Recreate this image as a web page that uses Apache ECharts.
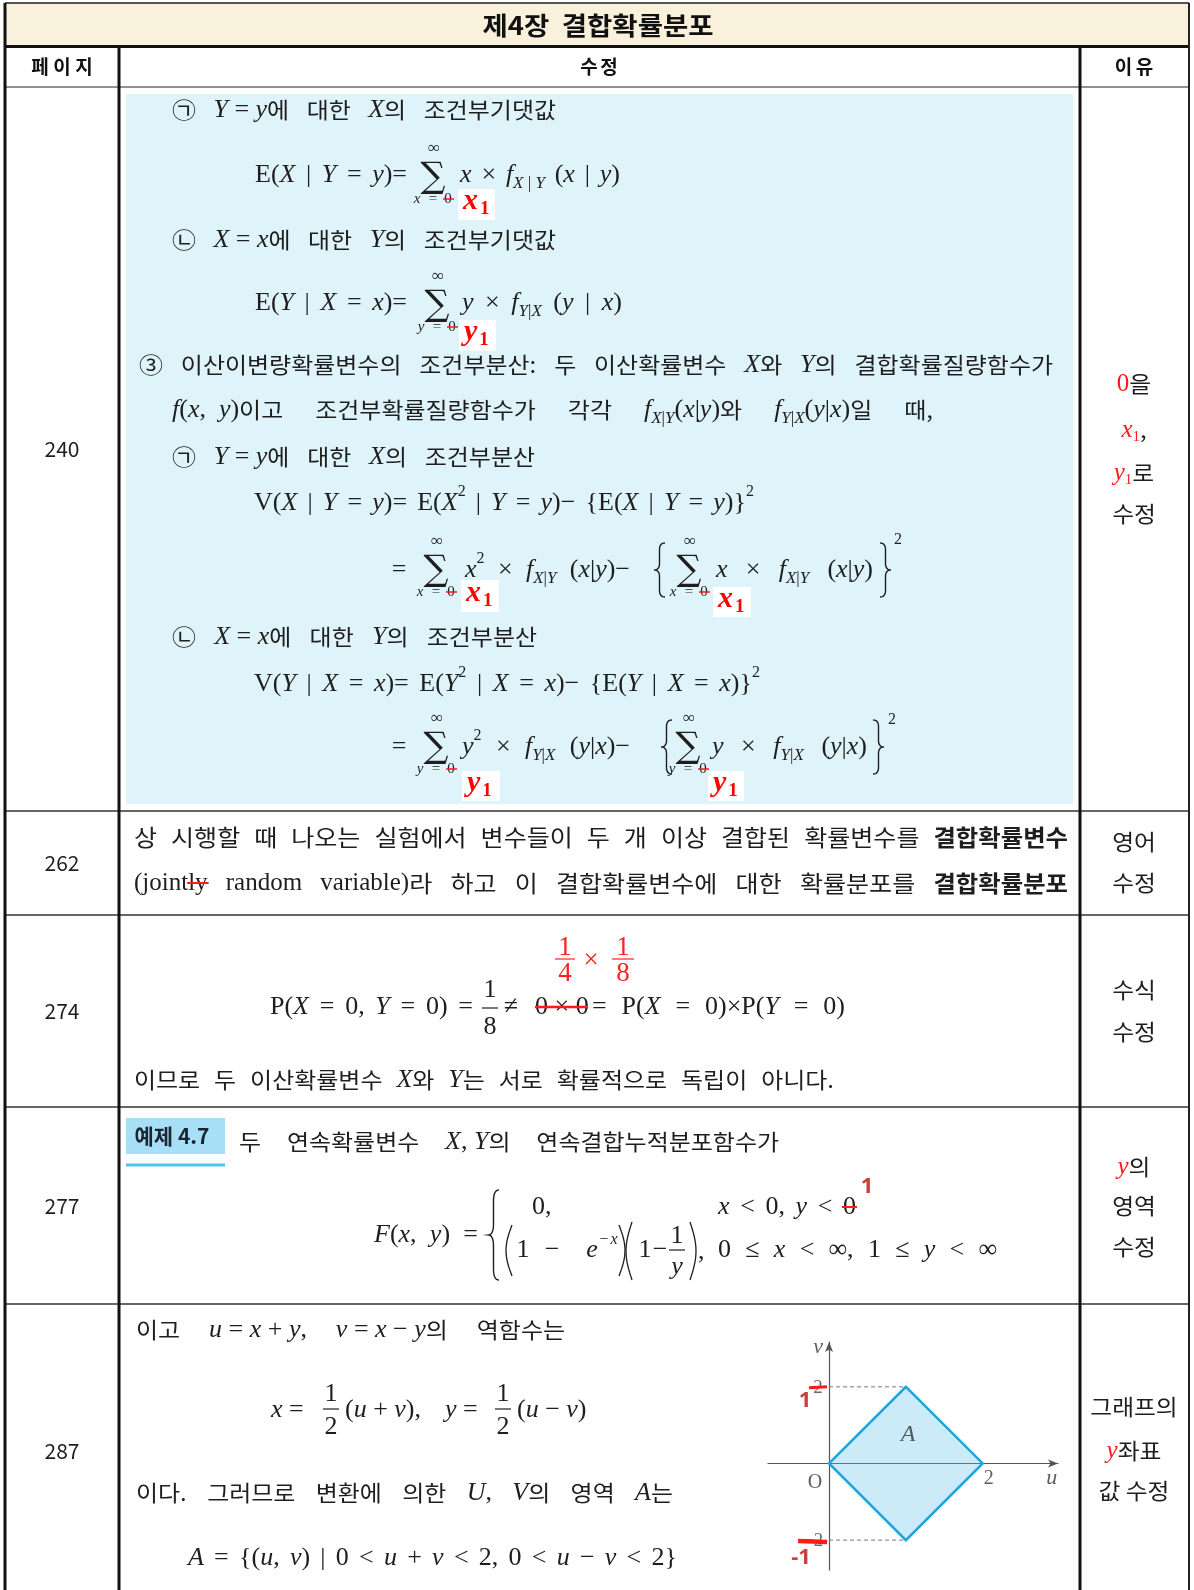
<!DOCTYPE html>
<html>
<head>
<meta charset="utf-8">
<script src="https://cdn.jsdelivr.net/npm/echarts@6/dist/echarts.min.js"></script>
<style>
  html, body { margin: 0; padding: 0; background: #fff; }
  #chart { width: 1194px; height: 1590px; }
</style>
</head>
<body>
<div id="chart"></div>
<script>
// ---- data ----
const title = '제4장  결합확률분포';
const headers = ['페이지', '수정', '이유'];
const pages = ['240', '262', '274', '277', '287'];
// region A of the last row, vertices (u, v)
const diamondU = [0, 1, 2, 1];
const diamondV = [0, 1, 0, -1];
const oldTicks = ['2', '−2'];   // printed v labels
const newTicks = ['1', '-1'];   // corrected v labels
const tickV = [1, -1];

// ---- layout ----
const LS = '"Liberation Serif"', NK = '"Noto Sans CJK KR"';
const RED = '#ff1a1a', INK = '#1e1e1e';
const ST = {
  k: { f: NK, s: 22, sx: 1.09 },
  k23: { f: NK, s: 23, sx: 1.09 },
  kb23: { f: NK, s: 23, w: 'bold', sx: 1.06 },
  m: { f: LS, s: 26, i: 1 },
  r: { f: LS, s: 26 },
  l: { f: LS, s: 25 },
  si: { f: LS, s: 17, i: 1, dy: 9 },
  sr: { f: LS, s: 17, dy: 9 },
  p: { f: LS, s: 16, dy: -11 },
  pi: { f: LS, s: 16, i: 1, dy: -11 },
  lim: { f: LS, s: 15, i: 1 },
  limr: { f: LS, s: 15 },
  rk: { f: NK, s: 22, sx: 1.08 },
  rm: { f: LS, s: 25, i: 1 },
  rr: { f: LS, s: 25 },
  rs: { f: LS, s: 15, dy: 7 }
};

const G = [];
const cv = document.createElement('canvas').getContext('2d');
const fnt = st => (st.i ? 'italic' : 'normal') + ' ' + (st.w || 'normal') + ' ' + st.s + 'px ' + st.f;
const tw = (t, st) => { cv.font = fnt(st); return cv.measureText(t).width * (st.sx || 1); };

function txt(x, y, t, st, c, align) {
  G.push({
    type: 'text', x: x, y: y, z: 10, silent: true, scaleX: st.sx || 1,
    style: {
      text: t, fontFamily: st.f, fontSize: st.s, fontStyle: st.i ? 'italic' : 'normal',
      fontWeight: st.w || 'normal', fill: c || INK,
      align: align || 'left', verticalAlign: 'middle',
      textAlign: align || 'left', textVerticalAlign: 'middle'
    }
  });
}
function seg(x1, y1, x2, y2, c, w, z, dash) {
  G.push({ type: 'line', z: z || 5, silent: true, shape: { x1, y1, x2, y2 },
    style: { stroke: c, lineWidth: w, lineDash: dash } });
}
function box(x, y, w, h, c, z) {
  G.push({ type: 'rect', z: z || 1, silent: true, shape: { x, y, width: w, height: h }, style: { fill: c } });
}
function poly(pts, c, w) {
  G.push({ type: 'polyline', z: 10, silent: true, shape: { points: pts }, style: { stroke: c || INK, lineWidth: w || 1.3, fill: null } });
}
const width = segs => segs.reduce((a, s) => a + tw(s[1], ST[s[0]]), 0);
function run(x, y, segs) {
  segs.forEach(([k, t, c, strike]) => {
    const st = ST[k], w = tw(t, st), yy = y + (st.dy || 0);
    txt(x, yy, t, st, c);
    if (strike) seg(x - 1, yy, x + w + 1, yy, RED, 2, 12);
    x += w;
  });
  return x;
}
const crun = (cx, y, segs) => run(cx - width(segs) / 2, y, segs);
function just(x0, x1, y, words, kdef) {
  words = words.map(w => typeof w === 'string' ? [[kdef || 'k', w]] : w);
  const ws = words.map(width);
  const gap = (x1 - x0 - ws.reduce((a, b) => a + b, 0)) / (words.length - 1);
  let x = x0;
  words.forEach((w, i) => { run(x, y, w); x += ws[i] + gap; });
}
function spaced(cx, y, str, st, pitch) {
  const n = str.length;
  str.split('').forEach((ch, i) => txt(cx + (i - (n - 1) / 2) * pitch, y, ch, st, '#111', 'center'));
}
function sum(cx, cy, v) {
  txt(cx, cy + 1, '∑', { f: '"DejaVu Serif"', s: 35 }, INK, 'center');
  txt(cx + 1, cy - 28, '∞', { f: LS, s: 17 }, INK, 'center');
  const ly = cy + 22;
  txt(cx - 16, ly, v, ST.lim, INK, 'center');
  txt(cx, ly, '=', ST.limr, INK, 'center');
  txt(cx + 15, ly, '0', ST.limr, INK, 'center');
  seg(cx + 10, ly, cx + 21, ly, RED, 1.5, 12);
}
function red1(bx, by, bw, bh, v) {
  box(bx, by, bw, bh, '#ffffff', 3);
  const st = { f: LS, s: 30, i: 1, w: 'bold' };
  txt(bx + 5, by + bh / 2 - 3, v, st, '#ff0000');
  txt(bx + 7 + tw(v, st), by + bh / 2 + 5, '1', { f: LS, s: 19, w: 'bold' }, '#ff0000');
}
function frac(cx, cy, a, b, sa, sb, c, bw, dn, dd) {
  txt(cx, cy - dn, a, sa, c, 'center');
  txt(cx, cy + dd, b, sb, c, 'center');
  seg(cx - bw / 2, cy, cx + bw / 2, cy, c || INK, 1.2, 10);
}
function brace(x, top, bot, dir) {
  const w = 11, mid = (top + bot) / 2, c = (bot - top) * 0.12, h = x + dir * w / 2;
  const pts = [];
  const q = (p0, p1, p2) => { for (let i = 0; i <= 8; i++) { const t = i / 8, s = 1 - t;
    pts.push([s * s * p0[0] + 2 * s * t * p1[0] + t * t * p2[0], s * s * p0[1] + 2 * s * t * p1[1] + t * t * p2[1]]); } };
  q([x + dir * w, top], [h, top], [h, top + c]);
  q([h, mid - c], [h, mid], [x, mid]);
  q([x, mid], [h, mid], [h, mid + c]);
  q([h, bot - c], [h, bot], [x + dir * w, bot]);
  poly(pts, INK, 1.4);
}
function paren(x, top, bot, dir) {
  const pts = [];
  for (let i = 0; i <= 16; i++) { const t = i / 16; pts.push([x - dir * 6 * Math.sin(Math.PI * t), top + t * (bot - top)]); }
  poly(pts, INK, 1.3);
}

// ---- table frame ----
const XL = 5, XA = 119, XB = 1080, XR = 1189;
const rowTop = [87, 811, 915, 1107, 1304];
const rowMid = [449, 863, 1011, 1206, 1451];
box(XL, 3, XR - XL, 43, '#f9f1dc', 0);
box(126, 94, 947, 710, '#dff3fa', 1);
seg(XL, 3, XR, 3, '#555', 2);
seg(XL, 46.5, XR, 46.5, '#111', 3);
rowTop.forEach((y, i) => seg(XL, y, XR, y, i === 0 ? '#222' : '#333', i === 0 ? 1.2 : 1.5));
seg(XL, 3, XL, 1590, '#111', 3);
seg(XA, 46, XA, 1590, '#111', 3);
seg(XB, 46, XB, 1590, '#111', 3);
seg(XR, 3, XR, 1590, '#222', 2);

txt(598, 25, title, { f: NK, s: 25, w: 'bold', sx: 1.1 }, '#111', 'center');
const headSt = { f: NK, s: 19, w: 'bold' };
spaced(62, 67, headers[0], headSt, 22);
spaced(599, 67, headers[1], headSt, 20);
spaced(1134, 67, headers[2], headSt, 21);
pages.forEach((p, i) => txt(62, rowMid[i], p, { f: NK, s: 21 }, INK, 'center'));

// ---- reasons ----
const reasons = [
  [[['rr', '0', RED], ['rk', '을']], [['rm', 'x', RED], ['rs', '1', RED], ['rk', ',']], [['rm', 'y', RED], ['rs', '1', RED], ['rk', '로']], [['rk', '수정']]],
  [[['rk', '영어']], [['rk', '수정']]],
  [[['rk', '수식']], [['rk', '수정']]],
  [[['rm', 'y', RED], ['rk', '의']], [['rk', '영역']], [['rk', '수정']]],
  [[['rk', '그래프의']], [['rm', 'y', RED], ['rk', '좌표']], [['rk', '값 수정']]]
];
const reasonY = [[384, 430, 473, 514], [842, 883], [990, 1032], [1167, 1206, 1247], [1407, 1451, 1491]];
reasons.forEach((lines, i) => lines.forEach((l, j) => crun(1134, reasonY[i][j], l)));

// ---- row 240 ----
just(172, 556, 110, ['㉠', [['m', 'Y'], ['r', ' = '], ['m', 'y'], ['k', '에']], '대한', [['m', 'X'], ['k', '의']], '조건부기댓값']);
just(255, 407, 175, [[['r', 'E('], ['m', 'X']], [['r', '|']], [['m', 'Y']], [['r', '=']], [['m', 'y'], ['r', ')=']]]);
sum(433, 177, 'x');
just(460, 620, 175, [[['m', 'x']], [['r', '×']], [['m', 'f'], ['si', 'X'], ['sr', ' | '], ['si', 'Y']], [['r', '('], ['m', 'x']], [['r', '|']], [['m', 'y'], ['r', ')']]]);
red1(458, 189, 37, 31, 'x');

just(172, 556, 240, ['㉡', [['m', 'X'], ['r', ' = '], ['m', 'x'], ['k', '에']], '대한', [['m', 'Y'], ['k', '의']], '조건부기댓값']);
just(255, 407, 303, [[['r', 'E('], ['m', 'Y']], [['r', '|']], [['m', 'X']], [['r', '=']], [['m', 'x'], ['r', ')=']]]);
sum(437, 305, 'y');
just(462, 622, 303, [[['m', 'y']], [['r', '×']], [['m', 'f'], ['si', 'Y'], ['sr', '|'], ['si', 'X']], [['r', '('], ['m', 'y']], [['r', '|']], [['m', 'x'], ['r', ')']]]);
red1(459, 320, 37, 31, 'y');

just(139, 1053, 365, ['③', '이산이변량확률변수의', '조건부분산:', '두', '이산확률변수', [['m', 'X'], ['k', '와']], [['m', 'Y'], ['k', '의']], '결합확률질량함수가']);
just(172, 933, 410, [
  [['m', 'f'], ['r', '('], ['m', 'x'], ['r', ',  '], ['m', 'y'], ['r', ')'], ['k', '이고']],
  '조건부확률질량함수가', '각각',
  [['m', 'f'], ['si', 'X'], ['sr', '|'], ['si', 'Y'], ['r', '('], ['m', 'x'], ['r', '|'], ['m', 'y'], ['r', ')'], ['k', '와']],
  [['m', 'f'], ['si', 'Y'], ['sr', '|'], ['si', 'X'], ['r', '('], ['m', 'y'], ['r', '|'], ['m', 'x'], ['r', ')'], ['k', '일']],
  '때,'
]);

just(172, 535, 457, ['㉠', [['m', 'Y'], ['r', ' = '], ['m', 'y'], ['k', '에']], '대한', [['m', 'X'], ['k', '의']], '조건부분산']);
just(254, 754, 503, [
  [['r', 'V('], ['m', 'X']], [['r', '|']], [['m', 'Y']], [['r', '=']], [['m', 'y'], ['r', ')=']],
  [['r', 'E('], ['m', 'X'], ['p', '2']], [['r', '|']], [['m', 'Y']], [['r', '=']], [['m', 'y'], ['r', ')−']],
  [['r', '{E('], ['m', 'X']], [['r', '|']], [['m', 'Y']], [['r', '=']], [['m', 'y'], ['r', ')}'], ['p', '2']]
]);
txt(399, 570, '=', ST.r, INK, 'center');
sum(436, 570, 'x');
just(465, 630, 570, [[['m', 'x'], ['p', '2']], [['r', '×']], [['m', 'f'], ['si', 'X'], ['sr', '|'], ['si', 'Y']], [['r', '('], ['m', 'x'], ['r', '|'], ['m', 'y'], ['r', ')−']]]);
brace(654, 543, 597, 1);
sum(689, 570, 'x');
just(716, 873, 570, [[['m', 'x']], [['r', '×']], [['m', 'f'], ['si', 'X'], ['sr', '|'], ['si', 'Y']], [['r', '('], ['m', 'x'], ['r', '|'], ['m', 'y'], ['r', ')']]]);
brace(891, 543, 597, -1);
txt(894, 540, '2', { f: LS, s: 16 }, INK);
red1(461, 580, 38, 32, 'x');
red1(713, 587, 38, 30, 'x');

just(172, 537, 637, ['㉡', [['m', 'X'], ['r', ' = '], ['m', 'x'], ['k', '에']], '대한', [['m', 'Y'], ['k', '의']], '조건부분산']);
just(254, 760, 684, [
  [['r', 'V('], ['m', 'Y']], [['r', '|']], [['m', 'X']], [['r', '=']], [['m', 'x'], ['r', ')=']],
  [['r', 'E('], ['m', 'Y'], ['p', '2']], [['r', '|']], [['m', 'X']], [['r', '=']], [['m', 'x'], ['r', ')−']],
  [['r', '{E('], ['m', 'Y']], [['r', '|']], [['m', 'X']], [['r', '=']], [['m', 'x'], ['r', ')}'], ['p', '2']]
]);
txt(399, 747, '=', ST.r, INK, 'center');
sum(436, 747, 'y');
just(462, 630, 747, [[['m', 'y'], ['p', '2']], [['r', '×']], [['m', 'f'], ['si', 'Y'], ['sr', '|'], ['si', 'X']], [['r', '('], ['m', 'y'], ['r', '|'], ['m', 'x'], ['r', ')−']]]);
brace(661, 720, 774, 1);
sum(688, 747, 'y');
just(712, 867, 747, [[['m', 'y']], [['r', '×']], [['m', 'f'], ['si', 'Y'], ['sr', '|'], ['si', 'X']], [['r', '('], ['m', 'y'], ['r', '|'], ['m', 'x'], ['r', ')']]]);
brace(884, 720, 774, -1);
txt(888, 720, '2', { f: LS, s: 16 }, INK);
red1(462, 771, 38, 30, 'y');
red1(708, 771, 36, 30, 'y');

// ---- row 262 ----
just(134, 1068, 837, ['상', '시행할', '때', '나오는', '실험에서', '변수들이', '두', '개', '이상', '결합된', '확률변수를', [['kb23', '결합확률변수']]], 'k23');
just(134, 1068, 883, [
  [['l', '(joint'], ['l', 'ly', INK, true]], [['l', 'random']], [['l', 'variable)'], ['k23', '라']],
  '하고', '이', '결합확률변수에', '대한', '확률분포를', [['kb23', '결합확률분포']]
], 'k23');

// ---- row 274 ----
const redNum = { f: LS, s: 27 };
frac(565, 959, '1', '4', redNum, redNum, '#ff2020', 20, 11, 15);
txt(591, 961, '×', redNum, '#ff2020', 'center');
frac(623, 959, '1', '8', redNum, redNum, '#ff2020', 22, 11, 15);
just(270, 473, 1007, [[['r', 'P('], ['m', 'X']], [['r', '=']], [['r', '0,']], [['m', 'Y']], [['r', '=']], [['r', '0)']], [['r', '=']]]);
frac(490, 1008, '1', '8', ST.r, ST.r, INK, 16, 18, 19);
txt(511, 1007, '≠', ST.r, INK, 'center');
run(535, 1007, [['r', '0 × 0']]);
seg(535, 1007, 588, 1007, RED, 2.5, 12);
just(592, 845, 1007, [[['r', '=']], [['r', 'P('], ['m', 'X']], [['r', '=']], [['r', '0)×P('], ['m', 'Y']], [['r', '=']], [['r', '0)']]]);
just(134, 834, 1080, ['이므로', '두', '이산확률변수', [['m', 'X'], ['k', '와']], [['m', 'Y'], ['k', '는']], '서로', '확률적으로', '독립이', '아니다.']);

// ---- row 277 ----
box(126, 1118, 99, 36, '#a7e0f6', 2);
seg(126, 1165, 225, 1165, '#4ec4ee', 3, 3);
txt(172, 1136, '예제 4.7', { f: NK, s: 21, w: 'bold', sx: 1.0 }, '#1a2530', 'center');
just(239, 779, 1142, ['두', '연속확률변수', [['m', 'X'], ['r', ', '], ['m', 'Y'], ['k', '의']], '연속결합누적분포함수가']);
just(374, 478, 1235, [[['m', 'F'], ['r', '('], ['m', 'x'], ['r', ',']], [['m', 'y'], ['r', ')']], [['r', '=']]]);
brace(488, 1190, 1280, 1);
txt(532, 1207, '0,', ST.r, INK);
just(718, 856, 1207, [[['m', 'x']], [['r', '<']], [['r', '0,']], [['m', 'y']], [['r', '<']], [['r', '0', INK, true]]]);
txt(867, 1187, '1', { f: '"Noto Sans"', s: 22, w: 'bold' }, '#d03a3a', 'center');
paren(512, 1225, 1276, 1);
txt(523, 1250, '1', ST.r, INK, 'center');
txt(552, 1250, '−', ST.r, INK, 'center');
txt(592, 1250, 'e', ST.m, INK, 'center');
txt(604, 1240, '−', { f: LS, s: 16 }, INK, 'center');
txt(614, 1240, 'x', { f: LS, s: 16, i: 1 }, INK, 'center');
paren(619, 1225, 1276, -1);
paren(632, 1222, 1280, 1);
txt(645, 1250, '1', ST.r, INK, 'center');
txt(660, 1250, '−', ST.r, INK, 'center');
frac(677, 1250, '1', 'y', ST.r, ST.m, INK, 16, 14, 17);
paren(690, 1222, 1280, -1);
txt(698, 1252, ',', ST.r, INK);
just(718, 997, 1250, [[['r', '0']], [['r', '≤']], [['m', 'x']], [['r', '<']], [['r', '∞,']], [['r', '1']], [['r', '≤']], [['m', 'y']], [['r', '<']], [['r', '∞']]]);

// ---- row 287 ----
just(136, 565, 1330, ['이고', [['m', 'u'], ['r', ' = '], ['m', 'x'], ['r', ' + '], ['m', 'y'], ['r', ',']], [['m', 'v'], ['r', ' = '], ['m', 'x'], ['r', ' − '], ['m', 'y'], ['k', '의']], '역함수는']);
run(271, 1410, [['m', 'x'], ['r', ' =']]);
frac(331, 1409, '1', '2', ST.r, ST.r, INK, 16, 15, 18);
run(345, 1410, [['r', '('], ['m', 'u'], ['r', ' + '], ['m', 'v'], ['r', '),']]);
run(445, 1410, [['m', 'y'], ['r', ' =']]);
frac(503, 1409, '1', '2', ST.r, ST.r, INK, 16, 15, 18);
run(517, 1410, [['r', '('], ['m', 'u'], ['r', ' − '], ['m', 'v'], ['r', ')']]);
just(136, 673, 1493, ['이다.', '그러므로', '변환에', '의한', [['m', 'U'], ['r', ',']], [['m', 'V'], ['k', '의']], '영역', [['m', 'A'], ['k', '는']]]);
just(188, 677, 1558, [[['m', 'A']], [['r', '=']], [['r', '{('], ['m', 'u'], ['r', ',']], [['m', 'v'], ['r', ')']], [['r', '|']], [['r', '0']], [['r', '<']], [['m', 'u']], [['r', '+']], [['m', 'v']], [['r', '<']], [['r', '2,']], [['r', '0']], [['r', '<']], [['m', 'u']], [['r', '−']], [['m', 'v']], [['r', '<']], [['r', '2}']]]);

// ---- diagram ----
const chart = echarts.init(document.getElementById('chart'));
const axisBase = {
  type: 'value',
  axisLine: { onZero: true, symbol: ['none', 'arrow'], symbolSize: [6, 10], lineStyle: { color: '#555', width: 1.2 } },
  axisTick: { show: false }, axisLabel: { show: false }, splitLine: { show: false }
};
const diamond = diamondU.map((u, i) => [u, diamondV[i]]);
const serifLabel = (txtv, off, italic, size, color) => ({
  show: true, position: 'inside', offset: off, formatter: txtv,
  fontFamily: LS, fontSize: size || 20, fontStyle: italic ? 'italic' : 'normal', color: color || '#333'
});
chart.setOption({
  animation: false,
  backgroundColor: '#ffffff',
  grid: { left: 768, top: 1342, width: 290, height: 228 },
  xAxis: Object.assign({}, axisBase, { min: -0.795, max: 2.98 }),
  yAxis: Object.assign({}, axisBase, { min: -1.39, max: 1.585 }),
  graphic: { elements: G },
  series: [
    {
      type: 'custom', z: 1, data: diamond,
      renderItem: (params, api) => params.dataIndex !== 0 ? null : {
        type: 'polygon',
        shape: { points: diamond.map(p => api.coord(p)) },
        style: { fill: 'rgba(100,195,235,0.33)', stroke: '#1aa6de', lineWidth: 2.5 }
      }
    },
    {
      type: 'line', symbol: 'none', silent: true,
      data: [[0, diamondV[1]], [diamondU[1], diamondV[1]]],
      lineStyle: { color: '#777', width: 1, type: [4, 3] }
    },
    {
      type: 'line', symbol: 'none', silent: true,
      data: [[0, diamondV[3]], [diamondU[3], diamondV[3]]],
      lineStyle: { color: '#777', width: 1, type: [4, 3] }
    },
    {
      type: 'scatter', symbolSize: 0, silent: true,
      data: [
        { value: [0, 0], label: serifLabel('O', [-14, 19]) },
        { value: [2, 0], label: serifLabel('2', [6, 15]) },
        { value: [2.9, 0], label: serifLabel('u', [0, 15], true, 22) },
        { value: [0, 1.52], label: serifLabel('v', [-11, 0], true, 22) },
        { value: [0, tickV[0]], label: serifLabel(oldTicks[0], [-11, 1], false, 19, '#444') },
        { value: [0, tickV[1]], label: serifLabel(oldTicks[1], [-16, 1], false, 19, '#444') },
        { value: [1.03, 0.37], label: serifLabel('A', [0, 0], true, 24) }
      ]
    },
    {
      type: 'custom', z: 5, silent: true,
      data: tickV.map((v, i) => [0, v, i]),
      renderItem: (params, api) => {
        const p = api.coord([0, api.value(1)]);
        const i = api.value(2);
        const x0 = i === 0 ? p[0] - 20 : p[0] - 31;
        return {
          type: 'group', children: [
            { type: 'line', shape: { x1: x0, y1: p[1] + 1, x2: p[0] - 2, y2: p[1] + (i === 0 ? 0 : 2) },
              style: { stroke: RED, lineWidth: i === 0 ? 3 : 4.5 } },
            { type: 'text', x: p[0] - (i === 0 ? 24 : 28), y: p[1] + (i === 0 ? 14 : 18),
              style: { text: newTicks[i], fontFamily: '"Noto Sans"', fontSize: 22, fontWeight: 'bold',
                fill: '#c94040', align: 'center', verticalAlign: 'middle' } }
          ]
        };
      }
    }
  ]
});
</script>
</body>
</html>
